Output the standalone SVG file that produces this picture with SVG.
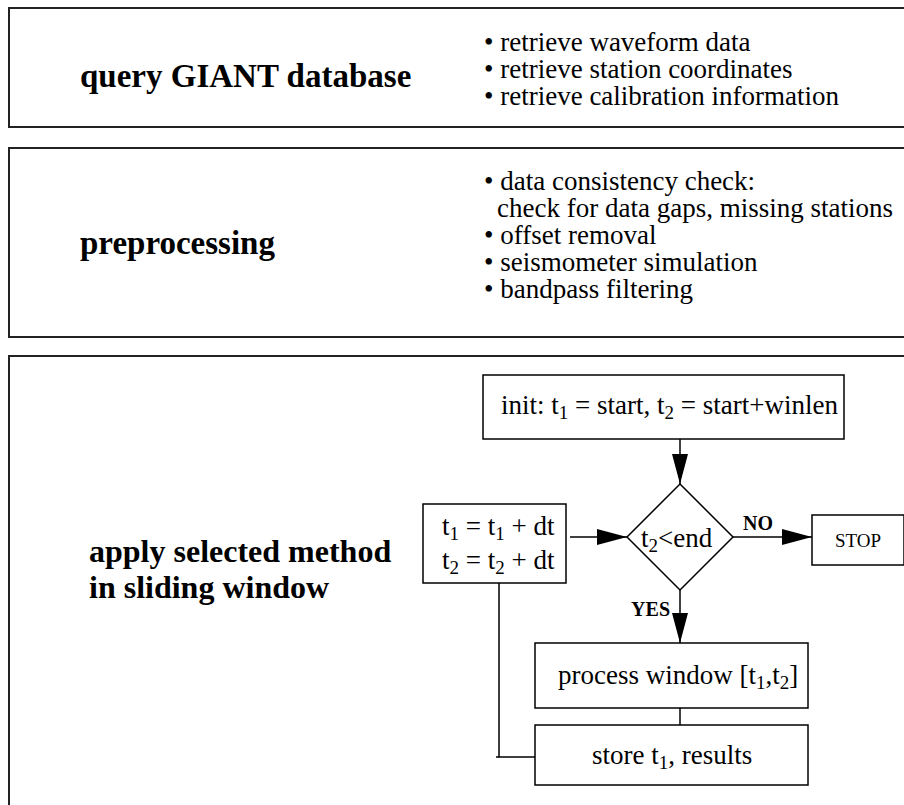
<svg xmlns="http://www.w3.org/2000/svg" width="904" height="805" viewBox="0 0 904 805">
<style>
.frame{fill:none;stroke:#222;stroke-width:2}
.box{fill:#fff;stroke:#000;stroke-width:1.5}
.ln{fill:none;stroke:#000;stroke-width:1.5}
text{font-family:"Liberation Serif","Times New Roman",Times,"DejaVu Serif",serif;fill:#000}
.title{font-weight:bold;font-size:33px}
.title2{font-weight:bold;font-size:32px}
.bul{font-size:27px}
.t{font-size:27px}
.lab{font-weight:bold;font-size:20px}
.sub{font-size:19px}
</style>
<defs>
<marker id="arr" markerWidth="30" markerHeight="16" refX="30" refY="8" orient="auto" markerUnits="userSpaceOnUse">
<path d="M0,0 L30,8 L0,16 Z" fill="#000"/>
</marker>
</defs>
<rect width="904" height="805" fill="#fff"/>

<g id="query">
<rect class="frame" x="9" y="8" width="910" height="119"/>
<text class="title" x="80" y="87">query GIANT database</text>
<text class="bul" x="484" y="51">• retrieve waveform data</text>
<text class="bul" x="484" y="78">• retrieve station coordinates</text>
<text class="bul" x="484" y="105">• retrieve calibration information</text>
</g>

<g id="preprocessing">
<rect class="frame" x="9" y="148" width="910" height="189"/>
<text class="title" x="80" y="254">preprocessing</text>
<text class="bul" x="484" y="190">• data consistency check:</text>
<text class="bul" x="497" y="217">check for data gaps, missing stations</text>
<text class="bul" x="484" y="244">• offset removal</text>
<text class="bul" x="484" y="271">• seismometer simulation</text>
<text class="bul" x="484" y="298">• bandpass filtering</text>
</g>

<g id="sliding">
<rect class="frame" x="9" y="356" width="910" height="470"/>
<text class="title2" x="89" y="562">apply selected method</text>
<text class="title2" x="89" y="598">in sliding window</text>
</g>

<g id="init">
<rect class="box" x="483" y="375" width="361" height="64"/>
<text class="t" x="501" y="414">init: t<tspan class="sub" dy="5">1</tspan><tspan dy="-5"> = start, t</tspan><tspan class="sub" dy="5">2</tspan><tspan dy="-5"> = start+winlen</tspan></text>
</g>

<g id="increment">
<rect class="box" x="423" y="504" width="143" height="79"/>
<text class="t" x="442" y="535">t<tspan class="sub" dy="5">1</tspan><tspan dy="-5"> = t</tspan><tspan class="sub" dy="5">1</tspan><tspan dy="-5"> + dt</tspan></text>
<text class="t" x="442" y="569">t<tspan class="sub" dy="5">2</tspan><tspan dy="-5"> = t</tspan><tspan class="sub" dy="5">2</tspan><tspan dy="-5"> + dt</tspan></text>
</g>

<g id="decision">
<polygon class="box" points="680,484 733,537 680,590 627,537"/>
<text class="t" x="641" y="547">t<tspan class="sub" dy="5">2</tspan><tspan dy="-5">&lt;end</tspan></text>
</g>

<g id="stop">
<rect class="box" x="812" y="515" width="92" height="50"/>
<text class="t" x="858" y="547" text-anchor="middle" style="font-size:19px">STOP</text>
</g>

<g id="process">
<rect class="box" x="535" y="643" width="273" height="65"/>
<text class="t" x="558" y="684">process window [t<tspan class="sub" dy="5">1</tspan><tspan dy="-5">,t</tspan><tspan class="sub" dy="5">2</tspan><tspan dy="-5">]</tspan></text>
</g>

<g id="store">
<rect class="box" x="535" y="725" width="273" height="60"/>
<text class="t" x="592" y="764">store t<tspan class="sub" dy="5">1</tspan><tspan dy="-5">, results</tspan></text>
</g>

<g id="connectors">
<line class="ln" x1="680" y1="439" x2="680" y2="484" marker-end="url(#arr)"/>
<line class="ln" x1="570" y1="537" x2="627" y2="537" marker-end="url(#arr)"/>
<line class="ln" x1="733" y1="537" x2="812" y2="537" marker-end="url(#arr)"/>
<line class="ln" x1="680" y1="590" x2="680" y2="643" marker-end="url(#arr)"/>
<line class="ln" x1="680" y1="708" x2="680" y2="725"/>
<polyline class="ln" points="499,583 499,757 535,757"/>
<line class="ln" x1="496" y1="757" x2="499" y2="757"/>
<text class="lab" x="743" y="530">NO</text>
<text class="lab" x="670" y="616" text-anchor="end">YES</text>
</g>
</svg>
